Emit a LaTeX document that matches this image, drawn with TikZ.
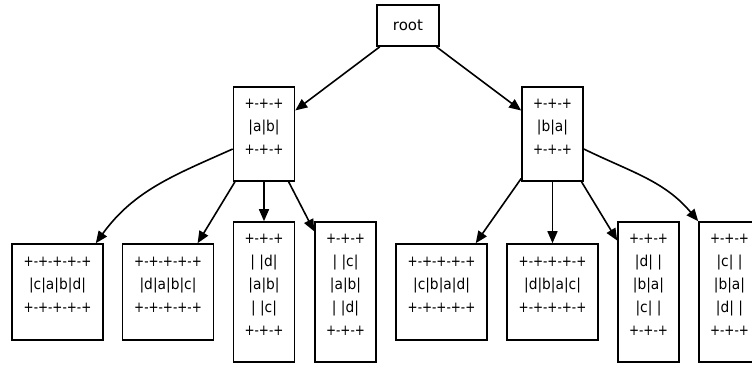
\documentclass[tikz,border=0pt]{standalone}
\usepackage{fontspec}
\setmainfont{DejaVu Sans}
\usetikzlibrary{arrows.meta}
% squeeze a row of the cell drawing horizontally
\newcommand\sq[2][0.8]{\scalebox{#1}[1]{#2}}
% trailing empty row of a record
\newcommand\tail{\\[-16pt]\strut}
\tikzset{
  rec/.style={draw, line width=1.6pt, inner sep=0pt, align=center,
    font=\fontsize{15}{23}\selectfont},
  wide/.style={rec, minimum width=91pt, minimum height=96pt},
  tall/.style={rec, minimum width=61pt, minimum height=140pt},
  mid/.style={rec, minimum width=61pt, minimum height=94pt},
  edge/.style={line width=1.6pt, -{Triangle[length=12pt,width=10pt]}}
}
\begin{document}
\begin{tikzpicture}[x=1pt, y=-1pt]
\useasboundingbox (0,0) rectangle (752,365);
% root and first level
\node[rec, minimum width=62pt, minimum height=41pt] (root) at (408,25.5) {root};
\node[mid] (ab) at (264,134) {\sq{+-+-+}\\\sq[0.92]{|a|b|}\\\sq{+-+-+}\tail};
\node[mid] (ba) at (552.5,134) {\sq{+-+-+}\\\sq[0.92]{|b|a|}\\\sq{+-+-+}\tail};
% leaves under ab
\node[wide] (cabd) at (57.5,292) {\sq{+-+-+-+-+}\\\sq[0.92]{|c|a|b|d|}\\\sq{+-+-+-+-+}\tail};
\node[wide] (dabc) at (168,292) {\sq{+-+-+-+-+}\\\sq[0.92]{|d|a|b|c|}\\\sq{+-+-+-+-+}\tail};
\node[tall] (abd) at (264,292) {\sq{+-+-+}\\\sq[0.92]{| |d|}\\\sq[0.92]{|a|b|}\\\sq[0.92]{| |c|}\\\sq{+-+-+}\tail};
\node[tall] (abc) at (345.5,292) {\sq{+-+-+}\\\sq[0.92]{| |c|}\\\sq[0.92]{|a|b|}\\\sq[0.92]{| |d|}\\\sq{+-+-+}\tail};
% leaves under ba
\node[wide] (cbad) at (441.5,292) {\sq{+-+-+-+-+}\\\sq[0.92]{|c|b|a|d|}\\\sq{+-+-+-+-+}\tail};
\node[wide] (dbac) at (552.5,292) {\sq{+-+-+-+-+}\\\sq[0.92]{|d|b|a|c|}\\\sq{+-+-+-+-+}\tail};
\node[tall] (dbc) at (648.5,292) {\sq{+-+-+}\\\sq[0.92]{|d| |}\\\sq[0.92]{|b|a|}\\\sq[0.92]{|c| |}\\\sq{+-+-+}\tail};
\node[tall] (cbd) at (729.5,292) {\sq{+-+-+}\\\sq[0.92]{|c| |}\\\sq[0.92]{|b|a|}\\\sq[0.92]{|d| |}\\\sq{+-+-+}\tail};
% connectors
\draw[edge] (root) -- (ab);
\draw[edge] (root) -- (ba);
\draw[edge] ([yshift=-15pt]ab.west) to[out=204, in=54] ([xshift=-8pt]cabd.north east);
\draw[edge] (ab) -- (dabc);
\draw[edge] (ab) -- (abd);
\draw[edge] (ab) -- (abc);
\draw[edge] (ba) -- (cbad);
\draw[edge] (ba) -- (dbac);
\draw[edge] (ba) -- (dbc);
\draw[edge] ([yshift=-15pt]ba.east) to[out=-26, in=130] (cbd.north west);
\end{tikzpicture}
\end{document}
